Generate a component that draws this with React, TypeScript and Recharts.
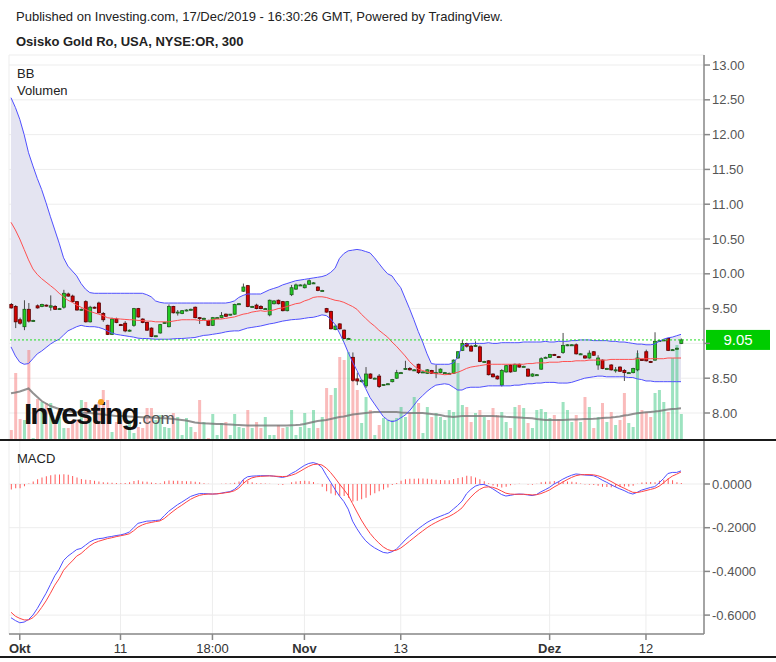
import React from 'react';
import { ComposedChart, Bar, Line, Area, XAxis, YAxis, CartesianGrid, ReferenceLine, Cell } from 'recharts';

// 300-minute candles, Osisko Gold Royalties (NYSE:OR), Oct - 17 Dec 2019
const opens = [
  9.56, 9.53, 9.34, 9.24, 9.49, 9.32, 9.54, 9.53, 9.55, 9.52,
  9.53, 9.49, 9.52, 9.71, 9.68, 9.60, 9.48, 9.60, 9.31, 9.52,
  9.58, 9.43, 9.26, 9.13, 9.35, 9.27, 9.29, 9.18, 9.26, 9.50,
  9.35, 9.30, 9.22, 9.10, 9.15, 9.29, 9.24, 9.53, 9.44, 9.43,
  9.47, 9.48, 9.52, 9.37, 9.36, 9.33, 9.26, 9.37, 9.37, 9.42,
  9.41, 9.42, 9.57, 9.75, 9.83, 9.53, 9.55, 9.53, 9.50, 9.41,
  9.57, 9.62, 9.60, 9.47, 9.70, 9.78, 9.84, 9.80, 9.85, 9.87,
  9.81, 9.76, 9.50, 9.46, 9.20, 9.28, 9.19, 9.07, 8.80, 8.49,
  8.45, 8.39, 8.56, 8.50, 8.53, 8.40, 8.42, 8.45, 8.50, 8.58,
  8.63, 8.64, 8.62, 8.70, 8.59, 8.57, 8.61, 8.58, 8.58, 8.58,
  8.57, 8.57, 8.79, 8.90, 9.00, 8.96, 8.96, 8.95, 8.74, 8.75,
  8.56, 8.53, 8.40, 8.59, 8.69, 8.60, 8.70, 8.67, 8.63, 8.53,
  8.55, 8.63, 8.80, 8.80, 8.84, 8.81, 8.87, 8.97, 8.98, 8.98,
  8.85, 8.82, 8.79, 8.88, 8.69, 8.76, 8.64, 8.69, 8.62, 8.66,
  8.61, 8.58, 8.58, 8.62, 8.77, 8.88, 8.74, 8.76, 9.04, 9.05,
  9.07, 8.91, 8.92, 9.00,
];
const highs = [
  9.58, 9.55, 9.37, 9.62, 9.58, 9.34, 9.56, 9.57, 9.56, 9.69,
  9.55, 9.51, 9.77, 9.73, 9.70, 9.61, 9.50, 9.62, 9.54, 9.53,
  9.60, 9.45, 9.27, 9.37, 9.37, 9.28, 9.32, 9.20, 9.51, 9.51,
  9.36, 9.31, 9.23, 9.11, 9.28, 9.31, 9.56, 9.54, 9.48, 9.48,
  9.49, 9.50, 9.53, 9.38, 9.37, 9.34, 9.38, 9.38, 9.45, 9.43,
  9.42, 9.57, 9.58, 9.86, 9.84, 9.54, 9.57, 9.55, 9.51, 9.63,
  9.62, 9.63, 9.61, 9.61, 9.84, 9.86, 9.85, 9.86, 9.92, 9.88,
  9.82, 9.77, 9.51, 9.47, 9.27, 9.29, 9.20, 9.08, 8.87, 8.58,
  8.48, 8.66, 8.57, 8.51, 8.56, 8.41, 8.43, 8.49, 8.62, 8.59,
  8.75, 8.66, 8.63, 8.71, 8.60, 8.63, 8.62, 8.69, 8.64, 8.59,
  8.58, 8.77, 8.89, 9.05, 9.01, 8.98, 9.03, 8.97, 8.75, 8.76,
  8.57, 8.54, 8.63, 8.69, 8.70, 8.71, 8.71, 8.68, 8.64, 8.57,
  8.56, 8.80, 8.81, 8.85, 8.85, 8.82, 9.15, 8.99, 8.99, 9.00,
  8.86, 8.83, 8.90, 8.89, 8.83, 8.77, 8.65, 8.70, 8.66, 8.67,
  8.63, 8.59, 8.65, 8.90, 8.78, 8.91, 8.75, 9.16, 9.05, 9.06,
  9.08, 8.92, 8.94, 9.07,
];
const lows = [
  9.50, 9.22, 9.27, 9.19, 9.30, 9.31, 9.50, 9.52, 9.53, 9.47,
  9.48, 9.48, 9.50, 9.67, 9.59, 9.47, 9.47, 9.30, 9.30, 9.50,
  9.43, 9.31, 9.12, 9.12, 9.29, 9.25, 9.16, 9.17, 9.24, 9.37,
  9.29, 9.18, 9.09, 9.09, 9.14, 9.28, 9.23, 9.43, 9.40, 9.42,
  9.46, 9.47, 9.36, 9.28, 9.35, 9.25, 9.25, 9.36, 9.36, 9.38,
  9.40, 9.41, 9.56, 9.74, 9.52, 9.52, 9.49, 9.49, 9.49, 9.39,
  9.56, 9.56, 9.46, 9.46, 9.68, 9.77, 9.83, 9.79, 9.84, 9.86,
  9.75, 9.75, 9.44, 9.20, 9.19, 9.20, 9.06, 9.06, 8.45, 8.40,
  8.44, 8.36, 8.49, 8.49, 8.36, 8.39, 8.41, 8.44, 8.49, 8.57,
  8.62, 8.61, 8.61, 8.56, 8.58, 8.56, 8.56, 8.50, 8.57, 8.57,
  8.56, 8.56, 8.78, 8.89, 8.94, 8.88, 8.95, 8.73, 8.73, 8.54,
  8.51, 8.48, 8.38, 8.58, 8.58, 8.59, 8.65, 8.66, 8.52, 8.52,
  8.54, 8.62, 8.79, 8.79, 8.82, 8.79, 8.85, 8.96, 8.97, 8.84,
  8.84, 8.78, 8.78, 8.82, 8.62, 8.63, 8.63, 8.61, 8.58, 8.59,
  8.46, 8.57, 8.57, 8.60, 8.75, 8.74, 8.72, 8.75, 9.03, 9.04,
  8.89, 8.90, 8.91, 8.99,
];
const closes = [
  9.51, 9.31, 9.29, 9.49, 9.32, 9.33, 9.51, 9.56, 9.54, 9.54,
  9.49, 9.50, 9.72, 9.68, 9.60, 9.48, 9.49, 9.31, 9.52, 9.51,
  9.44, 9.34, 9.13, 9.35, 9.30, 9.26, 9.18, 9.19, 9.50, 9.38,
  9.30, 9.19, 9.10, 9.11, 9.27, 9.30, 9.53, 9.44, 9.45, 9.47,
  9.48, 9.49, 9.37, 9.36, 9.36, 9.26, 9.37, 9.37, 9.40, 9.39,
  9.42, 9.56, 9.57, 9.81, 9.53, 9.53, 9.50, 9.50, 9.50, 9.62,
  9.61, 9.57, 9.47, 9.60, 9.80, 9.84, 9.84, 9.84, 9.90, 9.87,
  9.76, 9.76, 9.45, 9.21, 9.25, 9.21, 9.07, 9.07, 8.47, 8.46,
  8.47, 8.56, 8.50, 8.50, 8.38, 8.41, 8.42, 8.48, 8.58, 8.58,
  8.64, 8.62, 8.62, 8.58, 8.59, 8.62, 8.57, 8.58, 8.63, 8.58,
  8.57, 8.76, 8.88, 9.00, 8.96, 8.89, 8.97, 8.74, 8.74, 8.55,
  8.52, 8.49, 8.61, 8.68, 8.59, 8.70, 8.66, 8.67, 8.53, 8.56,
  8.55, 8.78, 8.80, 8.84, 8.83, 8.80, 8.97, 8.98, 8.98, 8.85,
  8.85, 8.79, 8.86, 8.83, 8.79, 8.64, 8.64, 8.62, 8.62, 8.60,
  8.58, 8.58, 8.64, 8.79, 8.76, 8.75, 8.73, 9.03, 9.04, 9.05,
  8.90, 8.91, 8.93, 9.05,
];
// volume in thousands of shares
const volumes = [
  100, 670, 210, 200, 900, 20, 410, 380, 370, 370,
  200, 230, 120, 120, 200, 200, 400, 380, 230, 200,
  380, 500, 400, 80, 180, 200, 120, 200, 70, 130,
  120, 320, 320, 200, 250, 130, 120, 270, 230, 50,
  220, 130, 80, 400, 180, 20, 260, 50, 170, 180,
  50, 260, 130, 120, 300, 120, 180, 120, 230, 50,
  50, 150, 120, 130, 300, 50, 130, 270, 120, 300,
  120, 230, 520, 450, 520, 830, 800, 880, 730, 500,
  170, 430, 300, 50, 150, 220, 200, 200, 220, 330,
  230, 270, 430, 370, 70, 330, 230, 270, 230, 200,
  300, 280, 770, 350, 330, 180, 270, 300, 230, 200,
  320, 250, 280, 180, 120, 330, 350, 320, 170, 120,
  300, 310, 280, 220, 250, 210, 380, 300, 180, 250,
  180, 430, 330, 120, 230, 370, 180, 280, 150, 200,
  470, 170, 130, 870, 300, 280, 230, 470, 500, 380,
  280, 820, 950, 260,
];
const volumeMa = [
  467, 475, 485, 500, 515, 470, 430, 390, 365, 340,
  325, 310, 300, 290, 280, 278, 275, 272, 270, 265,
  260, 255, 250, 245, 240, 240, 238, 235, 232, 230,
  228, 226, 225, 223, 220, 218, 215, 210, 205, 200,
  195, 185, 175, 170, 167, 165, 163, 160, 160, 157,
  155, 152, 150, 148, 146, 145, 145, 145, 145, 145,
  145, 145, 145, 146, 148, 150, 153, 160, 170, 180,
  190, 195, 200, 210, 220, 230, 235, 245, 255, 260,
  265, 270, 275, 280, 280, 280, 280, 280, 280, 275,
  273, 270, 270, 270, 270, 265, 260, 255, 250, 240,
  235, 230, 235, 240, 240, 240, 240, 240, 240, 240,
  240, 237, 235, 232, 230, 228, 225, 222, 220, 217,
  210, 205, 200, 200, 200, 200, 200, 202, 204, 206,
  208, 210, 210, 212, 215, 220, 223, 226, 230, 235,
  245, 250, 260, 267, 272, 278, 281, 284, 290, 298,
  305, 310, 313, 317,
];
const bbUpper = [
  12.53, 12.39, 12.22, 12.00, 11.74, 11.55, 11.37, 11.21, 11.02, 10.82,
  10.63, 10.44, 10.23, 10.11, 10.04, 9.97, 9.86, 9.78, 9.73, 9.72,
  9.72, 9.72, 9.72, 9.72, 9.72, 9.72, 9.72, 9.72, 9.72, 9.72,
  9.72, 9.70, 9.67, 9.61, 9.59, 9.58, 9.58, 9.58, 9.58, 9.58,
  9.58, 9.58, 9.58, 9.58, 9.58, 9.58, 9.58, 9.58, 9.58, 9.58,
  9.59, 9.61, 9.66, 9.69, 9.71, 9.71, 9.71, 9.71, 9.74, 9.77,
  9.79, 9.81, 9.84, 9.86, 9.88, 9.90, 9.91, 9.92, 9.93, 9.94,
  9.95, 9.96, 9.98, 10.02, 10.08, 10.22, 10.29, 10.33, 10.34, 10.35,
  10.34, 10.32, 10.30, 10.23, 10.15, 10.07, 10.00, 9.97, 9.88, 9.80,
  9.65, 9.50, 9.34, 9.17, 9.02, 8.85, 8.71, 8.70, 8.70, 8.70,
  8.70, 8.72, 8.80, 8.96, 8.99, 9.00, 9.00, 9.00, 9.00, 9.01,
  9.00, 9.00, 9.01, 9.01, 9.01, 9.01, 9.01, 9.02, 9.02, 9.02,
  9.02, 9.02, 9.03, 9.02, 9.02, 9.03, 9.03, 9.03, 9.04, 9.04,
  9.05, 9.05, 9.05, 9.04, 9.04, 9.04, 9.04, 9.03, 9.03, 9.02,
  9.02, 9.01, 9.00, 8.99, 8.99, 8.98, 8.98, 8.99, 9.03, 9.06,
  9.08, 9.09, 9.11, 9.13,
];
const bbMiddle = [
  10.74, 10.63, 10.50, 10.35, 10.20, 10.07, 9.99, 9.93, 9.88, 9.83,
  9.78, 9.72, 9.67, 9.62, 9.59, 9.55, 9.52, 9.49, 9.46, 9.44,
  9.42, 9.40, 9.37, 9.36, 9.355, 9.35, 9.345, 9.34, 9.34, 9.33,
  9.33, 9.32, 9.32, 9.31, 9.31, 9.31, 9.31, 9.32, 9.33, 9.34,
  9.34, 9.34, 9.34, 9.33, 9.33, 9.33, 9.34, 9.35, 9.35, 9.36,
  9.37, 9.38, 9.40, 9.42, 9.43, 9.45, 9.46, 9.47, 9.46, 9.47,
  9.48, 9.50, 9.51, 9.53, 9.55, 9.57, 9.58, 9.61, 9.63, 9.66,
  9.67, 9.67, 9.66, 9.64, 9.62, 9.61, 9.59, 9.56, 9.53, 9.49,
  9.42, 9.36, 9.30, 9.25, 9.19, 9.14, 9.09, 9.02, 8.96, 8.89,
  8.82, 8.74, 8.68, 8.63, 8.61, 8.59, 8.575, 8.565, 8.56, 8.55,
  8.555, 8.57, 8.585, 8.61, 8.64, 8.66, 8.67, 8.68, 8.69, 8.70,
  8.70, 8.70, 8.70, 8.70, 8.70, 8.70, 8.70, 8.70, 8.71, 8.71,
  8.72, 8.72, 8.72, 8.73, 8.73, 8.73, 8.74, 8.74, 8.74, 8.75,
  8.75, 8.75, 8.76, 8.76, 8.76, 8.76, 8.76, 8.77, 8.77, 8.77,
  8.77, 8.77, 8.77, 8.78, 8.78, 8.78, 8.78, 8.78, 8.78, 8.78,
  8.79, 8.79, 8.79, 8.79,
];
const bbLower = [
  8.95, 8.82, 8.73, 8.70, 8.71, 8.78, 8.85, 8.89, 8.94, 8.99,
  9.03, 9.06, 9.12, 9.18, 9.21, 9.24, 9.26, 9.245, 9.24, 9.24,
  9.23, 9.21, 9.18, 9.15, 9.13, 9.12, 9.11, 9.10, 9.09, 9.075,
  9.07, 9.07, 9.065, 9.06, 9.06, 9.06, 9.06, 9.065, 9.07, 9.07,
  9.075, 9.08, 9.085, 9.10, 9.115, 9.12, 9.13, 9.14, 9.15, 9.165,
  9.175, 9.18, 9.18, 9.20, 9.22, 9.23, 9.24, 9.25, 9.265, 9.28,
  9.29, 9.305, 9.32, 9.33, 9.34, 9.345, 9.35, 9.36, 9.37, 9.375,
  9.39, 9.41, 9.40, 9.35, 9.27, 9.15, 9.02, 8.87, 8.73, 8.61,
  8.48, 8.35, 8.22, 8.13, 8.04, 7.95, 7.90, 7.875, 7.89, 7.93,
  7.97, 8.03, 8.11, 8.19, 8.25, 8.31, 8.36, 8.40, 8.41, 8.42,
  8.41, 8.37, 8.33, 8.33, 8.36, 8.37, 8.37, 8.37, 8.38, 8.39,
  8.39, 8.39, 8.39, 8.39, 8.39, 8.40, 8.40, 8.41, 8.42, 8.42,
  8.43, 8.43, 8.44, 8.44, 8.44, 8.43, 8.43, 8.43, 8.44, 8.46,
  8.48, 8.50, 8.51, 8.52, 8.53, 8.53, 8.52, 8.52, 8.52, 8.52,
  8.52, 8.51, 8.51, 8.49, 8.48, 8.46, 8.46, 8.45, 8.45, 8.45,
  8.45, 8.45, 8.45, 8.45,
];
const macdLine = [
  -0.612, -0.625, -0.635, -0.632, -0.620, -0.600, -0.570, -0.535, -0.500, -0.460,
  -0.420, -0.390, -0.350, -0.330, -0.315, -0.300, -0.295, -0.280, -0.265, -0.255,
  -0.250, -0.248, -0.243, -0.240, -0.236, -0.233, -0.228, -0.220, -0.200, -0.180,
  -0.175, -0.170, -0.169, -0.167, -0.165, -0.145, -0.125, -0.110, -0.095, -0.083,
  -0.070, -0.057, -0.050, -0.044, -0.044, -0.045, -0.046, -0.045, -0.042, -0.038,
  -0.035, -0.025, -0.008, 0.020, 0.033, 0.036, 0.037, 0.038, 0.038, 0.038,
  0.036, 0.033, 0.030, 0.035, 0.048, 0.058, 0.072, 0.085, 0.094, 0.098,
  0.092, 0.075, 0.040, 0.008, -0.025, -0.055, -0.080, -0.115, -0.170, -0.205,
  -0.235, -0.260, -0.278, -0.292, -0.303, -0.313, -0.316, -0.310, -0.298, -0.278,
  -0.256, -0.238, -0.222, -0.205, -0.190, -0.176, -0.165, -0.156, -0.148, -0.140,
  -0.132, -0.115, -0.098, -0.078, -0.045, -0.025, -0.010, -0.003, -0.002, -0.010,
  -0.022, -0.035, -0.048, -0.055, -0.052, -0.048, -0.046, -0.047, -0.050, -0.053,
  -0.048, -0.036, -0.026, -0.015, 0.000, 0.010, 0.022, 0.032, 0.040, 0.046,
  0.044, 0.041, 0.040, 0.038, 0.030, 0.018, 0.008, -0.003, -0.013, -0.022,
  -0.030, -0.040, -0.046, -0.038, -0.028, -0.022, -0.016, -0.012, 0.005, 0.025,
  0.048, 0.053, 0.053, 0.060,
];
const signalLine = [
  -0.587, -0.605, -0.615, -0.622, -0.622, -0.612, -0.592, -0.565, -0.535, -0.500,
  -0.463, -0.433, -0.395, -0.372, -0.352, -0.330, -0.318, -0.300, -0.283, -0.270,
  -0.262, -0.256, -0.250, -0.246, -0.241, -0.237, -0.233, -0.228, -0.214, -0.197,
  -0.187, -0.180, -0.176, -0.172, -0.169, -0.158, -0.141, -0.125, -0.110, -0.097,
  -0.083, -0.070, -0.060, -0.052, -0.048, -0.046, -0.046, -0.045, -0.043, -0.040,
  -0.037, -0.031, -0.019, 0.002, 0.018, 0.028, 0.033, 0.035, 0.036, 0.037,
  0.036, 0.035, 0.034, 0.035, 0.040, 0.047, 0.058, 0.070, 0.081, 0.089,
  0.091, 0.087, 0.073, 0.052, 0.027, 0.000, -0.025, -0.052, -0.090, -0.128,
  -0.165, -0.197, -0.226, -0.250, -0.270, -0.288, -0.300, -0.306, -0.303, -0.293,
  -0.278, -0.262, -0.246, -0.230, -0.215, -0.200, -0.187, -0.176, -0.166, -0.157,
  -0.149, -0.138, -0.125, -0.109, -0.083, -0.060, -0.040, -0.025, -0.015, -0.013,
  -0.015, -0.022, -0.032, -0.042, -0.046, -0.047, -0.047, -0.047, -0.048, -0.050,
  -0.049, -0.044, -0.036, -0.027, -0.014, -0.003, 0.009, 0.020, 0.030, 0.038,
  0.042, 0.043, 0.043, 0.042, 0.038, 0.031, 0.022, 0.012, 0.001, -0.010,
  -0.019, -0.029, -0.038, -0.039, -0.035, -0.030, -0.025, -0.020, -0.010, 0.005,
  0.022, 0.036, 0.045, 0.055,
];

const xTickIndex = [2, 25, 46, 67, 89, 123, 145];
const xTickLabels = ['Okt', '11', '18:00', 'Nov', '13', 'Dez', '12'];
const monthLabels = ['Okt', 'Nov', 'Dez'];
const priceTicks = [8, 8.5, 9, 9.5, 10, 10.5, 11, 11.5, 12, 12.5, 13];
const macdTicks = [0, -0.2, -0.4, -0.6];

const X_DOMAIN: [number, number] = [-0.46, 158.25];

const rows = closes.map((close, i) => ({
  i,
  open: opens[i],
  high: highs[i],
  low: lows[i],
  close,
  range: [lows[i], highs[i]],
  vol: volumes[i],
  volMa: volumeMa[i],
  band: [bbLower[i], bbUpper[i]],
  upper: bbUpper[i],
  mid: bbMiddle[i],
  lower: bbLower[i],
  macd: macdLine[i],
  signal: signalLine[i],
  hist: macdLine[i] - signalLine[i],
}));

const lastClose = closes[closes.length - 1];

const Candle = (props: any) => {
  const { x, y, width, height, payload } = props;
  if (!payload || x == null || y == null) return null;
  const top = Math.min(y, y + height);
  const h = Math.abs(height);
  const span = payload.high - payload.low;
  const ppu = span > 0 ? h / span : 0;
  const yOpen = top + (payload.high - payload.open) * ppu;
  const yClose = top + (payload.high - payload.close) * ppu;
  const up = payload.close >= payload.open;
  const cx = x + width / 2;
  const bodyTop = Math.min(yOpen, yClose);
  const bodyH = Math.max(Math.abs(yOpen - yClose), 1);
  return (
    <g>
      <line x1={cx} x2={cx} y1={top} y2={top + h} stroke="#4a4a4a" strokeWidth={1} />
      <rect
        x={x}
        y={bodyTop}
        width={width}
        height={bodyH}
        fill={up ? '#22cc22' : '#d40000'}
        stroke={up ? '#1d5e1d' : '#5a0000'}
        strokeWidth={0.8}
      />
    </g>
  );
};

const PriceTag = (props: any) => {
  const vb = props.viewBox || {};
  const right = vb.x + vb.width;
  return (
    <g>
      <rect x={right + 2} y={vb.y - 10} width={64} height={20} fill="#00cc00" />
      <text x={right + 34} y={vb.y + 5} fill="#fff" fontSize={15} textAnchor="middle">
        {lastClose.toFixed(2)}
      </text>
    </g>
  );
};

// the live price tag covers the tick label next to it, as on the original chart
const PriceTick = (props: any) => {
  const { x, y, payload } = props;
  if (Math.abs(payload.value - lastClose) < 0.15) return <g />;
  return (
    <text x={x} y={y} dy="0.355em" fill="#555" fontSize={13} textAnchor="start">
      {payload.value.toFixed(2)}
    </text>
  );
};

const XTick = (props: any) => {
  const { x, y, payload } = props;
  const label = xTickLabels[xTickIndex.indexOf(payload.value)] ?? '';
  return (
    <text
      x={x}
      y={y}
      dy={11}
      textAnchor="middle"
      fontSize={13}
      fontWeight={monthLabels.includes(label) ? 700 : 400}
      fill="#333"
    >
      {label}
    </text>
  );
};

const abs = (left: number, top: number, extra: React.CSSProperties = {}): React.CSSProperties => ({
  position: 'absolute',
  left,
  top,
  ...extra,
});

export default function App() {
  return (
    <div
      style={{
        position: 'absolute',
        left: 0,
        top: 0,
        width: 776,
        height: 662,
        background: '#fff',
        overflow: 'hidden',
        fontFamily: '"Liberation Sans", Arial, sans-serif',
        color: '#222',
      }}
    >
      <div style={abs(0, 0)}>
        <ComposedChart width={776} height={440} data={rows} margin={{ top: 55, right: 0, bottom: 0, left: 9 }}>
          <CartesianGrid xAxisId="c" yAxisId="p" stroke="#ededed" />
          <XAxis
            xAxisId="c"
            dataKey="i"
            type="number"
            domain={X_DOMAIN}
            ticks={xTickIndex}
            allowDataOverflow
            tick={false}
            tickLine={false}
            axisLine={false}
            height={0}
          />
          <XAxis xAxisId="v" dataKey="i" type="number" domain={X_DOMAIN} allowDataOverflow hide />
          <YAxis
            yAxisId="p"
            orientation="right"
            width={72}
            domain={[7.612, 13.144]}
            ticks={priceTicks}
            allowDataOverflow
            tick={<PriceTick />}
            stroke="#888"
            strokeWidth={1.5}
          />
          <YAxis yAxisId="v" hide domain={[0, 3850]} allowDataOverflow />
          <Area
            xAxisId="c"
            yAxisId="p"
            dataKey="band"
            stroke="none"
            fill="#e4e4f1"
            fillOpacity={1}
            isAnimationActive={false}
          />
          <Bar xAxisId="v" yAxisId="v" dataKey="vol" barSize={3} isAnimationActive={false}>
            {rows.map((r) => (
              <Cell key={r.i} fill={r.close >= r.open ? 'rgba(60,200,130,0.5)' : 'rgba(245,120,120,0.5)'} />
            ))}
          </Bar>
          <Line
            xAxisId="v"
            yAxisId="v"
            dataKey="volMa"
            stroke="#777"
            strokeOpacity={0.8}
            strokeWidth={2}
            dot={false}
            activeDot={false}
            isAnimationActive={false}
          />
          <Line xAxisId="c" yAxisId="p" dataKey="upper" stroke="#5050ff" strokeWidth={1} dot={false} activeDot={false} isAnimationActive={false} />
          <Line xAxisId="c" yAxisId="p" dataKey="lower" stroke="#5050ff" strokeWidth={1} dot={false} activeDot={false} isAnimationActive={false} />
          <Line xAxisId="c" yAxisId="p" dataKey="mid" stroke="#ff5050" strokeWidth={1} dot={false} activeDot={false} isAnimationActive={false} />
          <ReferenceLine
            xAxisId="c"
            yAxisId="p"
            y={lastClose}
            stroke="#22dd22"
            strokeDasharray="2 2"
            label={<PriceTag />}
          />
          <Bar xAxisId="c" yAxisId="p" dataKey="range" barSize={3} shape={<Candle />} isAnimationActive={false} />
        </ComposedChart>
      </div>

      <div style={abs(0, 440)}>
        <ComposedChart width={776} height={222} data={rows} margin={{ top: 0, right: 0, bottom: 0, left: 9 }}>
          <CartesianGrid stroke="#ededed" />
          <XAxis
            dataKey="i"
            type="number"
            domain={X_DOMAIN}
            ticks={xTickIndex}
            interval={0}
            allowDataOverflow
            height={28}
            tick={<XTick />}
            stroke="#888"
            strokeWidth={1.5}
          />
          <YAxis
            orientation="right"
            width={72}
            domain={[-0.6865, 0.2014]}
            ticks={macdTicks}
            allowDataOverflow
            tickFormatter={(v: number) => v.toFixed(4)}
            tick={{ fill: '#555', fontSize: 13 }}
            stroke="#888"
            strokeWidth={1.5}
          />
          <Bar dataKey="hist" barSize={1} fill="#ff5a5a" isAnimationActive={false} />
          <Line dataKey="macd" stroke="#5050ff" strokeWidth={1} dot={false} activeDot={false} isAnimationActive={false} />
          <Line dataKey="signal" stroke="#ff4444" strokeWidth={1} dot={false} activeDot={false} isAnimationActive={false} />
        </ComposedChart>
      </div>

      {/* pane separators */}
      <div style={abs(0, 439, { width: 776, height: 2, background: '#1a1a1a' })} />
      <div style={abs(0, 656, { width: 776, height: 2, background: '#1a1a1a' })} />

      <div style={abs(16, 9, { fontSize: 13 })}>
        Published on Investing.com, 17/Dec/2019 - 16:30:26 GMT, Powered by TradingView.
      </div>
      <div style={abs(16, 34, { fontSize: 13, fontWeight: 700 })}>Osisko Gold Ro, USA, NYSE:OR, 300</div>
      <div style={abs(17, 66, { fontSize: 13 })}>BB</div>
      <div style={abs(17, 83, { fontSize: 13 })}>Volumen</div>
      <div style={abs(17, 451, { fontSize: 13 })}>MACD</div>

      {/* watermark */}
      <div style={abs(24, 399, { fontSize: 30, lineHeight: '30px', whiteSpace: 'nowrap' })}>
        <span style={{ fontWeight: 700, letterSpacing: -2, color: '#111' }}>Investing</span>
        <span style={{ fontSize: 17, color: '#555' }}>.com</span>
      </div>
      <div style={abs(98, 399, { width: 6, height: 6, borderRadius: 3, background: '#f5a01e' })} />
    </div>
  );
}
